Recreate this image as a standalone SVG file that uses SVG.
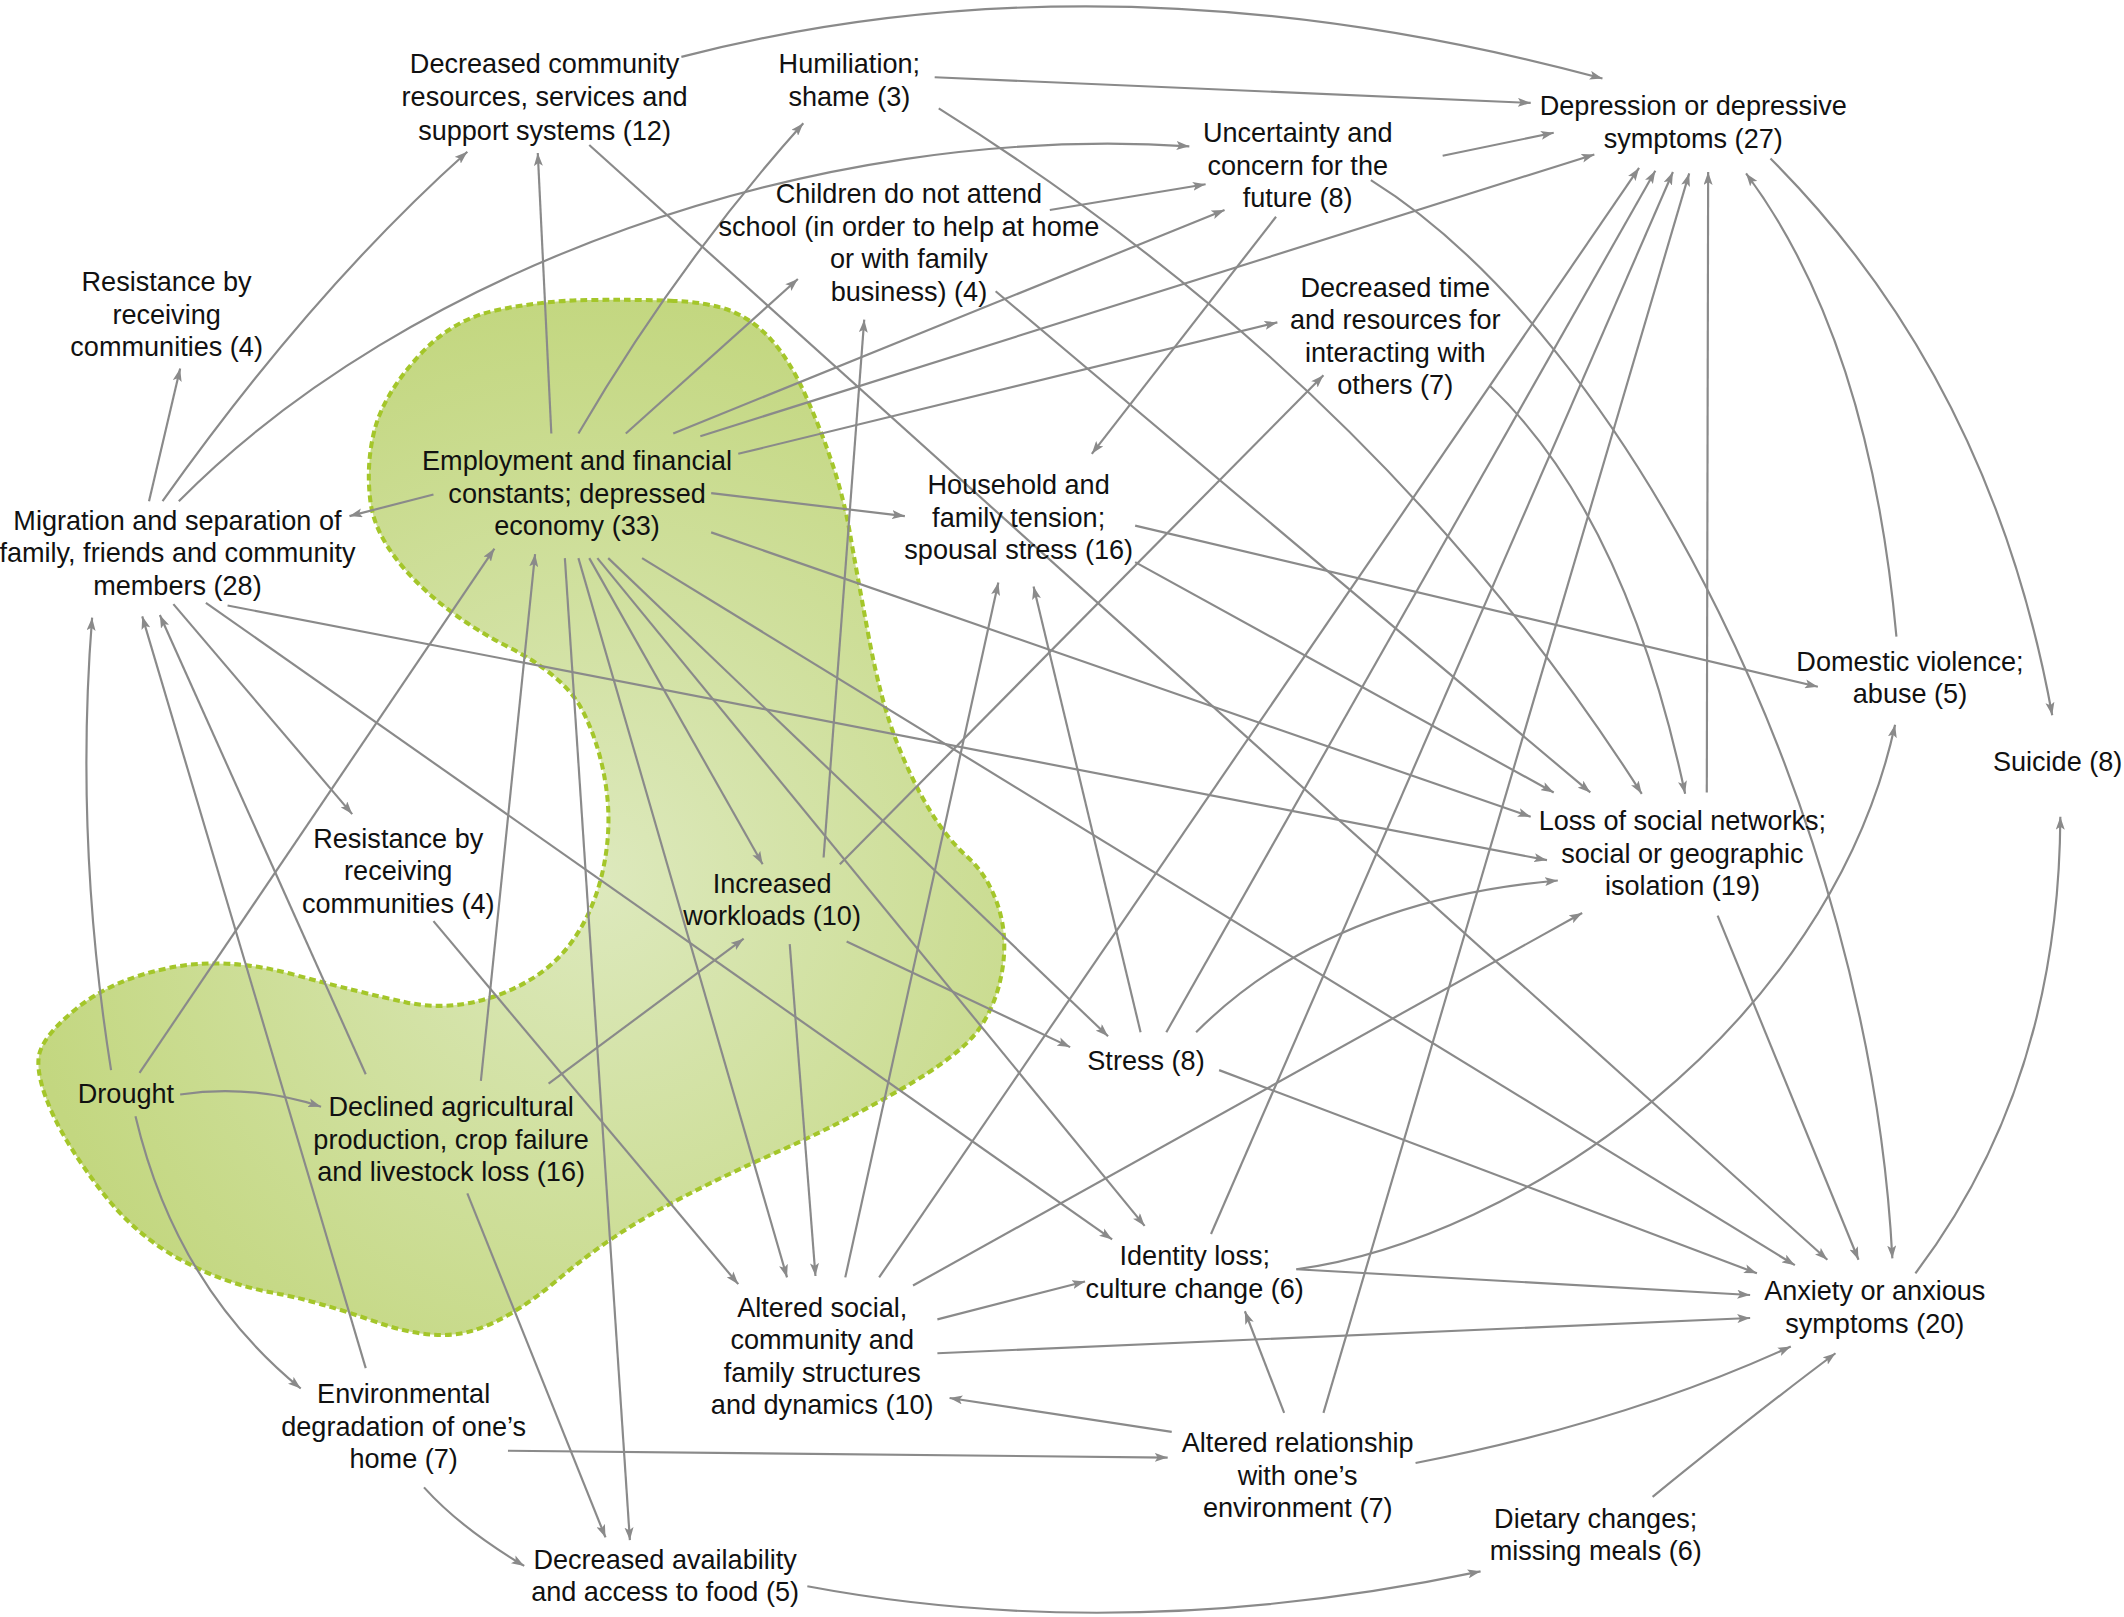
<svg xmlns="http://www.w3.org/2000/svg" width="2124" height="1617" viewBox="0 0 2124 1617">
<defs>
<radialGradient id="blobFill" gradientUnits="userSpaceOnUse" cx="440" cy="650" r="430">
<stop offset="0" stop-color="#dde9bd"/>
<stop offset="1" stop-color="#c3d780"/>
</radialGradient>
<marker id="ah" viewBox="0 0 10 7" refX="10" refY="3.5" markerWidth="9.5" markerHeight="6.8" markerUnits="userSpaceOnUse" orient="auto">
<path d="M0,0 L10,3.5 L0,7 L2.2,3.5 Z" fill="#8a8a8a"/>
</marker>
<style>
.n text{font-family:"Liberation Sans",Arial,Helvetica,sans-serif;font-size:20px;fill:#111;text-anchor:middle}
.c path{fill:none;stroke:#8a8a8a;stroke-width:1.6;marker-end:url(#ah)}
.blob{fill:url(#blobFill);stroke:#a4c62a;stroke-width:3;stroke-dasharray:5 3}
</style>
</defs>
<rect width="2124" height="1617" fill="#ffffff"/>
<g transform="scale(1.3546)">
<path id="region" class="blob" d="M 495 222 Q 523 223 539.5 229.5 Q 556 236 569.5 251 Q 583 266 594.5 291.5 Q 606 317 614.5 342.5 Q 623 368 627.5 394 Q 632 420 641 468.5 Q 650 517 661.5 546.5 Q 673 576 686 597.5 Q 699 619 714 632.5 Q 729 646 736.5 668 Q 744 690 740 715.5 Q 736 741 722.5 760 Q 709 779 664.5 804.5 Q 620 830 571.5 851.5 Q 523 873 485 894 Q 447 915 412 944.5 Q 377 974 348.5 982.5 Q 320 991 276.5 975.5 Q 233 960 200 954 Q 167 948 133.5 930 Q 100 912 75 879.5 Q 50 847 38.5 821.5 Q 27 796 28.5 781 Q 30 766 56.5 744.5 Q 83 723 125 714.5 Q 167 706 217 719.5 Q 267 733 300 740 Q 333 747 366.5 735 Q 400 723 418.5 700 Q 437 677 444.5 645 Q 452 613 447.5 581.5 Q 443 550 430 524.5 Q 417 499 375 477.5 Q 333 456 305 427 Q 277 398 273.5 370.5 Q 270 343 276.5 317.5 Q 283 292 308 264 Q 333 236 366.5 229 Q 400 222 433.5 221.5 Q 467 221 495 222 Z"/>
<g id="connectors" class="c">
<path d="M110 370 L133 272"/>
<path d="M120 370 Q 230 215 345 112"/>
<path d="M132 370 C 300 200 600 90 878 108"/>
<path d="M128 446 L260 601"/>
<path d="M152 445 L821 915"/>
<path d="M168 447 L1142 635"/>
<path d="M320 365 L258 381"/>
<path d="M407 320 L397 113"/>
<path d="M427 320 Q 500 195 593 91"/>
<path d="M462 320 L589 206"/>
<path d="M497 320 L904 155"/>
<path d="M517 322 L1177 114"/>
<path d="M545 335 L943 238"/>
<path d="M525 364 L668 381"/>
<path d="M525 393 L1130 603"/>
<path d="M474 412 L1325 934"/>
<path d="M449 412 L818 765"/>
<path d="M441 412 L845 905"/>
<path d="M435 412 L563 638"/>
<path d="M427 412 L581 943"/>
<path d="M417 412 L465 1137"/>
<path d="M503 42 Q 820 -40 1183 58"/>
<path d="M435 107 L1349 930"/>
<path d="M690 57 L1130 76"/>
<path d="M693 80 Q 1020 285 1212 586"/>
<path d="M775 155 L890 136"/>
<path d="M735 215 L1174 585"/>
<path d="M1065 115 L1147 98"/>
<path d="M942 160 L806 335"/>
<path d="M1012 133 C 1200 250 1380 600 1397 929"/>
<path d="M1100 285 Q 1200 380 1244 586"/>
<path d="M838 388 L1342 507"/>
<path d="M838 415 L1147 585"/>
<path d="M1400 470 Q 1380 250 1289 128"/>
<path d="M1307 117 Q 1470 280 1515 528"/>
<path d="M1260 585 L1261 127"/>
<path d="M1268 676 L1372 930"/>
<path d="M608 633 L638 236"/>
<path d="M620 638 L977 277"/>
<path d="M625 695 L790 773"/>
<path d="M583 697 L602 942"/>
<path d="M842 762 L763 433"/>
<path d="M861 762 L1222 126"/>
<path d="M883 762 Q 980 665 1150 650"/>
<path d="M900 790 L1297 940"/>
<path d="M82 790 Q 55 620 68 456"/>
<path d="M103 792 L365 405"/>
<path d="M133 808 Q 185 800 237 817"/>
<path d="M100 824 Q 130 950 222 1025"/>
<path d="M270 793 L118 454"/>
<path d="M355 798 L395 409"/>
<path d="M405 800 L549 693"/>
<path d="M345 881 L447 1135"/>
<path d="M320 680 L545 948"/>
<path d="M894 911 L1235 127"/>
<path d="M957 937 L1292 956"/>
<path d="M957 937 C 1120 915 1350 760 1399 535"/>
<path d="M624 943 L737 430"/>
<path d="M649 943 L1210 124"/>
<path d="M674 949 L1168 674"/>
<path d="M692 974 L801 946"/>
<path d="M692 999 L1292 973"/>
<path d="M977 1043 L1247 128"/>
<path d="M948 1043 L919 968"/>
<path d="M865 1057 L701 1032"/>
<path d="M1045 1080 Q 1200 1050 1322 994"/>
<path d="M375 1071 L862 1076"/>
<path d="M313 1098 Q 340 1128 387 1156"/>
<path d="M270 1010 L105 455"/>
<path d="M596 1171 Q 830 1215 1093 1160"/>
<path d="M1220 1105 Q 1300 1040 1355 999"/>
<path d="M1414 940 Q 1520 800 1521 603"/>
</g>
<g id="n-decreased-community" class="n"><text><tspan x="402" y="54">Decreased community</tspan><tspan x="402" y="78">resources, services and</tspan><tspan x="402" y="103">support systems (12)</tspan></text></g>
<g id="n-humiliation" class="n"><text><tspan x="627" y="54">Humiliation;</tspan><tspan x="627" y="78">shame (3)</tspan></text></g>
<g id="n-depression" class="n"><text><tspan x="1250" y="85">Depression or depressive</tspan><tspan x="1250" y="109">symptoms (27)</tspan></text></g>
<g id="n-uncertainty" class="n"><text><tspan x="958" y="105">Uncertainty and</tspan><tspan x="958" y="129">concern for the</tspan><tspan x="958" y="153">future (8)</tspan></text></g>
<g id="n-children" class="n"><text><tspan x="671" y="150">Children do not attend</tspan><tspan x="671" y="174">school (in order to help at home</tspan><tspan x="671" y="198">or with family</tspan><tspan x="671" y="222">business) (4)</tspan></text></g>
<g id="n-decreased-time" class="n"><text><tspan x="1030" y="219">Decreased time</tspan><tspan x="1030" y="243">and resources for</tspan><tspan x="1030" y="267">interacting with</tspan><tspan x="1030" y="291">others (7)</tspan></text></g>
<g id="n-resistance-top" class="n"><text><tspan x="123" y="215">Resistance by</tspan><tspan x="123" y="239">receiving</tspan><tspan x="123" y="263">communities (4)</tspan></text></g>
<g id="n-employment" class="n"><text><tspan x="426" y="347">Employment and financial</tspan><tspan x="426" y="371">constants; depressed</tspan><tspan x="426" y="395">economy (33)</tspan></text></g>
<g id="n-migration" class="n"><text><tspan x="131" y="391">Migration and separation of</tspan><tspan x="131" y="415">family, friends and community</tspan><tspan x="131" y="439">members (28)</tspan></text></g>
<g id="n-household" class="n"><text><tspan x="752" y="365">Household and</tspan><tspan x="752" y="389">family tension;</tspan><tspan x="752" y="413">spousal stress (16)</tspan></text></g>
<g id="n-domestic" class="n"><text><tspan x="1410" y="495">Domestic violence;</tspan><tspan x="1410" y="519">abuse (5)</tspan></text></g>
<g id="n-suicide" class="n"><text><tspan x="1519" y="569">Suicide (8)</tspan></text></g>
<g id="n-loss" class="n"><text><tspan x="1242" y="613">Loss of social networks;</tspan><tspan x="1242" y="637">social or geographic</tspan><tspan x="1242" y="661">isolation (19)</tspan></text></g>
<g id="n-resistance-mid" class="n"><text><tspan x="294" y="626">Resistance by</tspan><tspan x="294" y="650">receiving</tspan><tspan x="294" y="674">communities (4)</tspan></text></g>
<g id="n-workloads" class="n"><text><tspan x="570" y="659">Increased</tspan><tspan x="570" y="683">workloads (10)</tspan></text></g>
<g id="n-stress" class="n"><text><tspan x="846" y="790">Stress (8)</tspan></text></g>
<g id="n-drought" class="n"><text><tspan x="93" y="814">Drought</tspan></text></g>
<g id="n-declined" class="n"><text><tspan x="333" y="824">Declined agricultural</tspan><tspan x="333" y="848">production, crop failure</tspan><tspan x="333" y="872">and livestock loss (16)</tspan></text></g>
<g id="n-identity" class="n"><text><tspan x="882" y="934">Identity loss;</tspan><tspan x="882" y="958">culture change (6)</tspan></text></g>
<g id="n-anxiety" class="n"><text><tspan x="1384" y="960">Anxiety or anxious</tspan><tspan x="1384" y="984">symptoms (20)</tspan></text></g>
<g id="n-altered-social" class="n"><text><tspan x="607" y="972">Altered social,</tspan><tspan x="607" y="996">community and</tspan><tspan x="607" y="1020">family structures</tspan><tspan x="607" y="1044">and dynamics (10)</tspan></text></g>
<g id="n-environmental" class="n"><text><tspan x="298" y="1036">Environmental</tspan><tspan x="298" y="1060">degradation of one’s</tspan><tspan x="298" y="1084">home (7)</tspan></text></g>
<g id="n-altered-relationship" class="n"><text><tspan x="958" y="1072">Altered relationship</tspan><tspan x="958" y="1096">with one’s</tspan><tspan x="958" y="1120">environment (7)</tspan></text></g>
<g id="n-dietary" class="n"><text><tspan x="1178" y="1128">Dietary changes;</tspan><tspan x="1178" y="1152">missing meals (6)</tspan></text></g>
<g id="n-food" class="n"><text><tspan x="491" y="1158">Decreased availability</tspan><tspan x="491" y="1182">and access to food (5)</tspan></text></g>
</g>
</svg>
